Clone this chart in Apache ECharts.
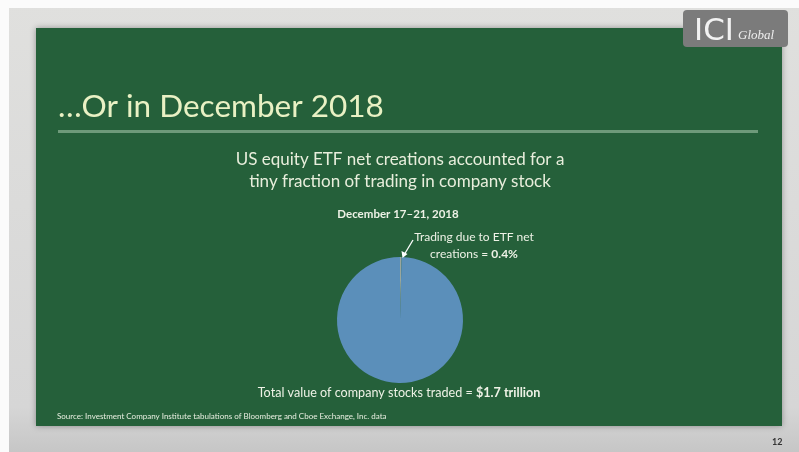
<!DOCTYPE html>
<html><head><meta charset="utf-8">
<script src="https://cdn.jsdelivr.net/npm/echarts@6/dist/echarts.min.js"></script>
<style>html,body{margin:0;padding:0;background:#d9d9d9}#c{width:799px;height:452px}</style>
</head><body><div id="c"></div>
<script>
const slideTitle = '…Or in December 2018';
const subtitleLines = ['US equity ETF net creations accounted for a', 'tiny fraction of trading in company stock'];
const periodLabel = 'December 17–21, 2018';
const categories = ['Trading due to ETF net creations', 'Total value of company stocks traded'];
const shares = [0.4, 99.6];
const valueTexts = ['0.4%', '$1.7 trillion'];
const sourceText = 'Source: Investment Company Institute tabulations of Bloomberg and Cboe Exchange, Inc. data';
const pageNumber = '12';

const F = 'Lato, "Open Sans", sans-serif';
const TXT = '#eef2e6';
const chart = echarts.init(document.getElementById('c'), null, {renderer: 'canvas'});
chart.setOption({
  backgroundColor: {type: 'linear', x: 0, y: 0, x2: 0, y2: 1, colorStops: [
    {offset: 0, color: '#e0e0de'}, {offset: 0.9, color: '#d6d6d6'}, {offset: 1, color: '#c6c6c6'}]},
  animation: false,
  graphic: [
    {type: 'rect', shape: {x: 0, y: 0, width: 799, height: 8}, style: {fill: '#fbfbfb'}, z: 0},
    {type: 'rect', shape: {x: 0, y: 0, width: 9, height: 452}, style: {fill: '#fbfbfb'}, z: 0},
    {type: 'rect', shape: {x: 36, y: 28, width: 746, height: 398}, style: {fill: '#25603a', shadowBlur: 6, shadowColor: 'rgba(0,0,0,0.35)'}, z: 1},
    {type: 'rect', shape: {x: 58, y: 130, width: 700, height: 3}, style: {fill: '#6e9a7a'}, z: 2},
    {type: 'text', x: 58, y: 91, style: {text: slideTitle, font: '31.5px ' + F, fill: '#e9f1c4'}, z: 2},
    {type: 'text', x: 400, y: 149, style: {text: subtitleLines.join('\n'), font: '17px ' + F, fill: '#e8eedc', align: 'center', lineHeight: 22}, z: 2},
    {type: 'text', x: 398, y: 208, style: {text: periodLabel, font: 'bold 11.5px ' + F, fill: TXT, align: 'center'}, z: 2},
    {type: 'text', x: 474, y: 229, style: {text: 'Trading due to ETF net\n{n|creations = }{b|' + valueTexts[0] + '}', font: '12px ' + F, fill: TXT, align: 'center', lineHeight: 17,
      rich: {n: {font: '12px ' + F, fill: TXT}, b: {font: 'bold 12px ' + F, fill: TXT}}}, z: 2},
    {type: 'text', x: 399, y: 386, style: {text: 'Total value of company stocks traded = {b|' + valueTexts[1] + '}', font: '12.6px ' + F, fill: TXT, align: 'center',
      rich: {b: {font: 'bold 12.6px ' + F, fill: TXT}}}, z: 2},
    {type: 'text', x: 57, y: 412, style: {text: sourceText, font: '8px ' + F, fill: '#e8eee0'}, z: 2},
    {type: 'text', x: 772, y: 438, style: {text: pageNumber, font: 'bold 9px ' + F, fill: '#333'}, z: 2},
    {type: 'rect', shape: {x: 683, y: 10, width: 105, height: 37, r: 4}, style: {fill: '#7b7b7b'}, z: 3},
    {type: 'text', x: 694, y: 16, style: {text: 'ICI', font: '31px "DejaVu Sans", sans-serif', fill: '#f2f2f2'}, z: 4},
    {type: 'text', x: 738, y: 29, style: {text: 'Global', font: 'italic 13px "Liberation Serif", serif', fill: '#eeeeee'}, z: 4},
    {type: 'line', shape: {x1: 413, y1: 240, x2: 404, y2: 255}, style: {stroke: '#ffffff', lineWidth: 1.3}, z: 5},
    {type: 'polygon', shape: {points: [[402.5, 258], [401.5, 251], [407.5, 254]]}, style: {fill: '#ffffff'}, z: 5}
  ],
  series: [{
    type: 'pie',
    center: [400, 320],
    radius: [0, 63],
    startAngle: 90,
    clockwise: true,
    z: 3,
    label: {show: false},
    labelLine: {show: false},
    itemStyle: {borderWidth: 0},
    data: categories.map((c, i) => ({
      name: c, value: shares[i],
      itemStyle: {color: i === 0 ? '#9aa79c' : '#5b8fba'}
    }))
  }]
});
</script></body></html>
